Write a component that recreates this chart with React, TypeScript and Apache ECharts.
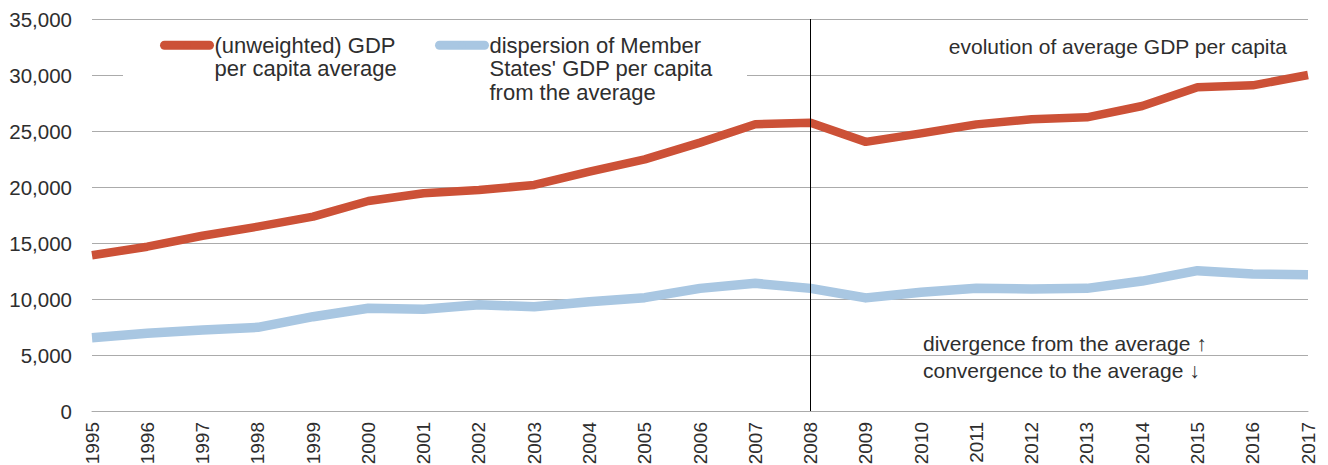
import React, { useEffect, useRef } from "react";
import * as echarts from "echarts";

const years = [
  "1995", "1996", "1997", "1998", "1999", "2000", "2001", "2002", "2003", "2004", "2005", "2006",
  "2007", "2008", "2009", "2010", "2011", "2012", "2013", "2014", "2015", "2016", "2017",
];
const gdpAverage = [
  13900, 14670, 15650, 16460, 17350, 18750, 19440, 19730, 20180, 21370, 22470, 23960,
  25600, 25740, 24030, 24790, 25590, 26040, 26220, 27230, 28900, 29080, 30000,
];
const dispersion = [
  6550, 6940, 7230, 7470, 8420, 9170, 9080, 9480, 9310, 9760, 10120, 10950,
  11400, 10950, 10100, 10600, 10950, 10890, 10950, 11600, 12530, 12230, 12170,
];
const seriesNames = [
  "(unweighted) GDP per capita average",
  "dispersion of Member States' GDP per capita from the average",
];
// leading blank lines keep the first text line level with the legend marker
const legendLabels = [
  "\n(unweighted) GDP\nper capita average",
  "\n\ndispersion of Member\nStates' GDP per capita\nfrom the average",
];
const markerYear = "2008";
const annotationTop = "evolution of average GDP per capita";
const annotationUp = "divergence from the average \u2191";
const annotationDown = "convergence to the average \u2193";

const FONT = '"Liberation Sans", Arial, sans-serif';
const TEXT = "#2e2e2e";
const RED = "#cc5137";
const BLUE = "#a9c7e2";
const GRIDC = "#ababab";

export default function App() {
  const ref = useRef<HTMLDivElement>(null);
  useEffect(() => {
    if (!ref.current) return;
    const chart = echarts.init(ref.current, null, { renderer: "svg" });
    const legendBase = {
      orient: "horizontal",
      itemWidth: 45,
      itemHeight: 9,
      padding: 0,
      selectedMode: false,
      lineStyle: { width: 9, cap: "round" },
      formatter: (name: string) => legendLabels[seriesNames.indexOf(name)],
      textStyle: { fontFamily: FONT, fontSize: 22, color: TEXT, lineHeight: 23.5 },
    };
    chart.setOption({
      animation: false,
      backgroundColor: "#ffffff",
      textStyle: { fontFamily: FONT, color: TEXT },
      grid: { left: 92, right: 20, top: 19, bottom: 54, containLabel: false, outerBoundsMode: "none" },
      legend: [
        { ...legendBase, data: [seriesNames[0]], left: 160, top: 10 },
        { ...legendBase, data: [seriesNames[1]], left: 435, top: -13.5 },
      ],
      graphic: [
        {
          type: "rect",
          z: 1,
          shape: { x: 123, y: 28, width: 624, height: 74 },
          style: { fill: "#ffffff" },
          silent: true,
        },
        {
          type: "text",
          z: 5,
          x: 1287,
          y: 46,
          style: { text: annotationTop, fontFamily: FONT, fontSize: 21, fill: TEXT, align: "right", verticalAlign: "middle" },
        },
        {
          type: "text",
          z: 5,
          x: 923,
          y: 343,
          style: { text: annotationUp, fontFamily: FONT, fontSize: 21, fill: TEXT, align: "left", verticalAlign: "middle" },
        },
        {
          type: "text",
          z: 5,
          x: 923,
          y: 370,
          style: { text: annotationDown, fontFamily: FONT, fontSize: 21, fill: TEXT, align: "left", verticalAlign: "middle" },
        },
      ],
      xAxis: {
        type: "category",
        data: years,
        boundaryGap: false,
        axisLine: { show: true, lineStyle: { color: GRIDC, width: 1 } },
        axisTick: { show: false },
        axisLabel: { rotate: 90, margin: 11, fontSize: 19, color: TEXT, fontFamily: FONT, interval: 0 },
        splitLine: { show: false },
      },
      yAxis: {
        type: "value",
        min: 0,
        max: 35000,
        interval: 5000,
        axisLine: { show: false },
        axisTick: { show: false },
        axisLabel: {
          margin: 20,
          fontSize: 20.5,
          color: TEXT,
          fontFamily: FONT,
          formatter: (v: number) => v.toLocaleString("en-US"),
        },
        splitLine: { show: true, lineStyle: { color: GRIDC, width: 1 } },
      },
      series: [
        {
          name: seriesNames[0],
          type: "line",
          data: gdpAverage,
          symbol: "none",
          z: 3,
          lineStyle: { color: RED, width: 8.5, join: "round" },
          itemStyle: { color: RED },
          markLine: {
            silent: true,
            symbol: "none",
            label: { show: false },
            lineStyle: { color: "#000000", width: 1, type: "solid" },
            data: [{ xAxis: markerYear }],
          },
        },
        {
          name: seriesNames[1],
          type: "line",
          data: dispersion,
          symbol: "none",
          z: 3,
          lineStyle: { color: BLUE, width: 9.5, join: "round" },
          itemStyle: { color: BLUE },
        },
      ],
    });
    return () => chart.dispose();
  }, []);
  return (
    <div
      ref={ref}
      style={{ position: "fixed", left: 0, top: 0, width: 1328, height: 465, background: "#fff" }}
    />
  );
}
